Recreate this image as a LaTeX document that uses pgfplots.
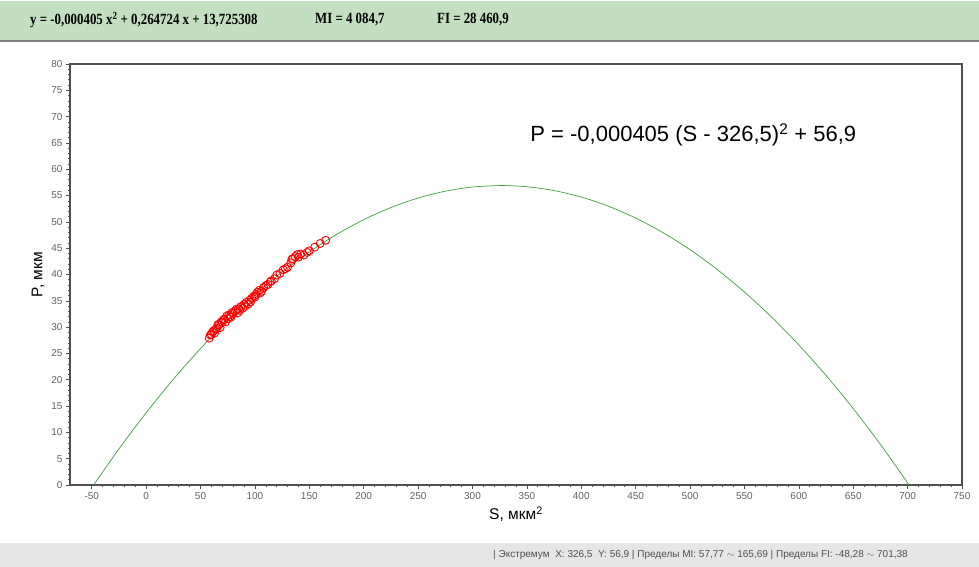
\documentclass[border=0pt]{standalone}
\usepackage{fontspec}
\setmainfont{Liberation Sans}
\newfontfamily\timesfont{Liberation Serif}
\usepackage{pgfplots}
\pgfplotsset{compat=1.18}
\definecolor{topgreen}{HTML}{C2E0C0}
\definecolor{botgray}{HTML}{E6E6E6}
\definecolor{curvegreen}{HTML}{3E9E3E}
\definecolor{framegray}{HTML}{505050}
\definecolor{ticktext}{HTML}{606060}

% fitted parabola, sampled
\pgfplotstableread{
S P
-48.28 0.0
-25 6.861
0 13.726
25 20.085
50 25.937
75 31.283
100 36.123
125 40.456
150 44.283
175 47.604
200 50.419
225 52.728
250 54.530
275 55.826
300 56.616
326.5 56.9
350 56.676
375 55.947
400 54.712
425 52.971
450 50.723
475 47.969
500 44.709
525 40.942
550 36.669
575 31.890
600 26.605
625 20.814
650 14.516
675 7.712
701.38 0.0
}\curvetable

% measured points
\pgfplotstableread{
S P
58 27.9
59 28.5
60 28.6
61 29.1
62 29.3
63 28.9
64 29.6
65 29.8
66 30.5
67 30.4
68 29.9
69 31.0
70 30.9
71 31.4
72 31.5
73 31.0
74 32.1
75 31.6
76 32.3
77 32.0
78 31.9
79 32.8
80 32.6
82 33.1
83 33.4
84 32.7
85 33.5
86 33.2
87 33.9
89 33.6
90 34.3
91 34.0
92 34.7
94 34.4
95 35.1
96 34.8
97 35.5
99 35.9
100 35.7
101 36.2
102 36.6
104 37.0
105 36.5
106 36.8
108 37.5
110 37.9
112 38.1
114 38.6
115 38.8
118 39.2
120 39.9
123 40.2
126 40.9
128 41.1
130 41.4
133 42.2
134 42.9
135 43.0
137 43.4
139 43.8
140 43.3
142 43.9
145 43.7
148 44.2
150 44.5
155 45.2
160 45.9
165 46.5
}\pointtable

\begin{document}
\begin{tikzpicture}[x=1pt,y=1pt]
\path[use as bounding box] (0,0) rectangle (979,567);
% header bar
\fill[topgreen] (0,527) rectangle (979,566);
\draw[gray, line width=2pt] (0,526) -- (979,526);
\begin{scope}[every node/.style={anchor=west, inner sep=0pt, xscale=0.83,
    font=\timesfont\bfseries\fontsize{15.5}{17}\selectfont}]
\node at (30,547) {y = -0,000405 x\textsuperscript{2} + 0,264724 x + 13,725308};
\node at (315,547) {MI = 4 084,7};
\node at (437,547) {FI = 28 460,9};
\end{scope}
% status bar
\fill[botgray] (0,0) rectangle (979,24);
\node[anchor=west, inner sep=0pt, text=framegray, font=\fontsize{10}{12}\selectfont]
  at (493,12) {| Экстремум\ \ X: 326,5\ \ Y: 56,9 | Пределы MI: 57,77 $\sim$ 165,69 | Пределы FI: -48,28 $\sim$ 701,38};

\begin{axis}[
    at={(70pt,82pt)}, anchor=south west,
    scale only axis,
    width=892pt, height=421pt,
    xmin=-70, xmax=750,
    ymin=0, ymax=80,
    xtick={-50,0,...,750},
    ytick={0,5,...,80},
    minor x tick num=4,
    minor y tick num=4,
    tick align=outside,
    xtick pos=left, ytick pos=left,
    major tick length=4pt,
    minor tick length=2pt,
    axis line style={framegray, line width=1.2pt},
    every tick/.style={framegray, line width=0.6pt},
    tick label style={text=ticktext, font=\fontsize{10}{12}\selectfont},
    /pgf/number format/assume math mode=true,
    /pgf/number format/use comma,
    /pgf/number format/1000 sep={},
    xlabel={S, мкм\textsuperscript{2}},
    ylabel={P, мкм},
    label style={font=\fontsize{15.5}{17}\selectfont},
    clip=false,
]
\addplot[curvegreen, line width=0.7pt, smooth, no marks] table[x=S, y=P] {\curvetable};
\addplot[only marks, mark=o, mark size=4pt, red, line width=0.9pt] table[x=S, y=P] {\pointtable};
\node[font=\fontsize{22}{25}\selectfont] at (axis cs:503,66.5)
  {P = -0,000405 (S - 326,5)\textsuperscript{2} + 56,9};
\end{axis}
\end{tikzpicture}
\end{document}
